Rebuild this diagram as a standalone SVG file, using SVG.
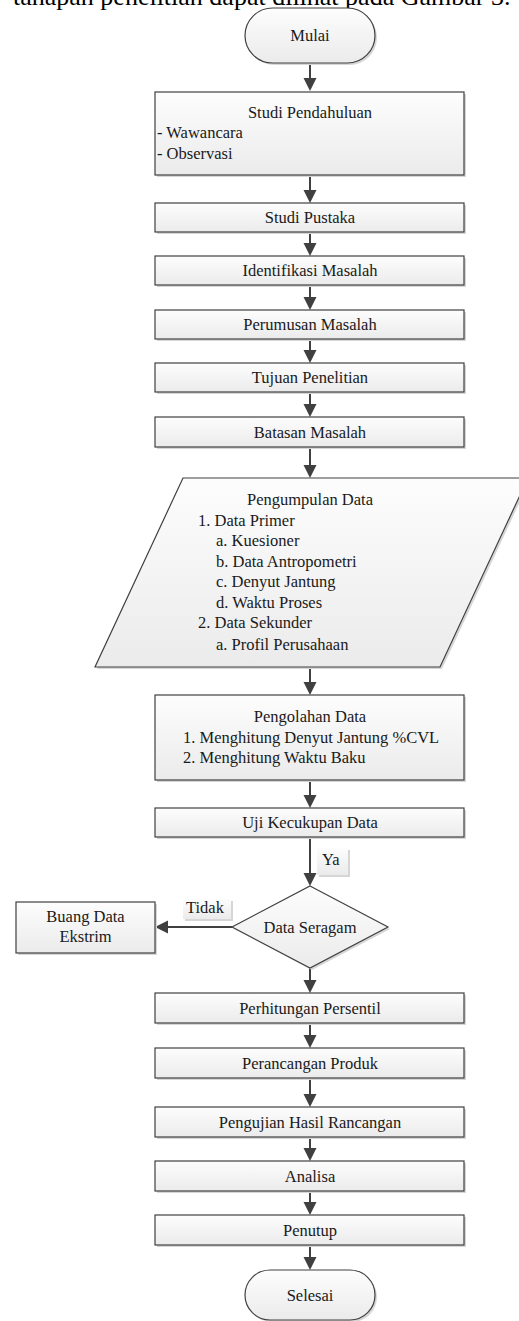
<svg xmlns="http://www.w3.org/2000/svg" width="519" height="1321" viewBox="0 0 519 1321">
<defs>
<linearGradient id="g" x1="0" y1="0" x2="0" y2="1">
<stop offset="0" stop-color="#fdfdfd"/>
<stop offset="1" stop-color="#ebebeb"/>
</linearGradient>
<marker id="ah" markerWidth="14" markerHeight="14" refX="7" refY="6.5" orient="auto" markerUnits="userSpaceOnUse">
<path d="M0,0 L13,6.5 L0,13 z" fill="#404040"/>
</marker>
</defs>
<style>
.s{fill:url(#g);stroke:#404040;stroke-width:1.2}
.sh{fill:#d6d6d6}
.t{font-family:"Liberation Serif","Times New Roman",serif;font-size:16.5px;fill:#1a1a1a}
.c{text-anchor:middle}
.e{stroke:#404040;stroke-width:2;fill:none;marker-end:url(#ah)}
.lb{fill:url(#g)}
</style>
<text x="13" y="5" style="font-family:'Liberation Serif',serif;font-size:26px;fill:#000">tahapan penelitian dapat dilihat pada Gambar 3.</text>

<g id="connectors">
<line class="e" x1="310" y1="63" x2="310" y2="85"/>
<line class="e" x1="310" y1="175" x2="310" y2="197"/>
<line class="e" x1="310" y1="232" x2="310" y2="250"/>
<line class="e" x1="310" y1="285" x2="310" y2="304"/>
<line class="e" x1="310" y1="339" x2="310" y2="357"/>
<line class="e" x1="310" y1="392" x2="310" y2="411"/>
<line class="e" x1="310" y1="447" x2="310" y2="472"/>
<line class="e" x1="310" y1="667" x2="310" y2="689"/>
<line class="e" x1="310" y1="780" x2="310" y2="802"/>
<line class="e" x1="310" y1="837" x2="310" y2="880"/>
<line class="e" x1="232" y1="927" x2="161" y2="927"/>
<line class="e" x1="310" y1="968" x2="310" y2="987"/>
<line class="e" x1="310" y1="1023" x2="310" y2="1042"/>
<line class="e" x1="310" y1="1078" x2="310" y2="1101"/>
<line class="e" x1="310" y1="1137" x2="310" y2="1155"/>
<line class="e" x1="310" y1="1191" x2="310" y2="1209"/>
<line class="e" x1="310" y1="1245" x2="310" y2="1264"/>
<g id="label-ya">
<rect class="sh" x="319" y="850" width="31" height="27"/>
<rect class="lb" x="317" y="848" width="31" height="27"/>
<text class="t" x="322" y="865">Ya</text>
</g>
<g id="label-tidak">
<rect class="sh" x="185" y="901" width="48" height="20"/>
<rect class="lb" x="183" y="899" width="48" height="20"/>
<text class="t" x="186" y="913">Tidak</text>
</g>
</g>

<g id="mulai">
<rect class="sh" x="247" y="10" width="130" height="55" rx="27.5"/>
<rect class="s" x="245" y="8" width="130" height="55" rx="27.5"/>
<text class="t c" x="310" y="41">Mulai</text>
</g>

<g id="studi-pendahuluan">
<rect class="sh" x="157" y="94" width="309" height="83"/>
<rect class="s" x="155" y="92" width="309" height="83"/>
<text class="t c" x="310" y="118">Studi Pendahuluan</text>
<text class="t" x="157" y="138">- Wawancara</text>
<text class="t" x="157" y="159">- Observasi</text>
</g>

<g id="studi-pustaka">
<rect class="sh" x="157" y="205" width="309" height="29"/>
<rect class="s" x="155" y="203" width="309" height="29"/>
<text class="t c" x="310" y="223">Studi Pustaka</text>
</g>

<g id="identifikasi">
<rect class="sh" x="157" y="258" width="309" height="29"/>
<rect class="s" x="155" y="256" width="309" height="29"/>
<text class="t c" x="310" y="276">Identifikasi Masalah</text>
</g>

<g id="perumusan">
<rect class="sh" x="157" y="312" width="309" height="29"/>
<rect class="s" x="155" y="310" width="309" height="29"/>
<text class="t c" x="310" y="330">Perumusan Masalah</text>
</g>

<g id="tujuan">
<rect class="sh" x="157" y="365" width="309" height="29"/>
<rect class="s" x="155" y="363" width="309" height="29"/>
<text class="t c" x="310" y="383">Tujuan Penelitian</text>
</g>

<g id="batasan">
<rect class="sh" x="157" y="419" width="309" height="30"/>
<rect class="s" x="155" y="417" width="309" height="30"/>
<text class="t c" x="310" y="438">Batasan Masalah</text>
</g>

<g id="pengumpulan">
<polygon class="sh" points="185,480 530,480 442,669 97,669"/>
<polygon class="s" points="183,478 528,478 440,667 95,667"/>
<text class="t c" x="310" y="505">Pengumpulan Data</text>
<text class="t" x="198" y="526">1. Data Primer</text>
<text class="t" x="216" y="546">a. Kuesioner</text>
<text class="t" x="216" y="567">b. Data Antropometri</text>
<text class="t" x="216" y="587">c. Denyut Jantung</text>
<text class="t" x="216" y="608">d. Waktu Proses</text>
<text class="t" x="198" y="628">2. Data Sekunder</text>
<text class="t" x="216" y="650">a. Profil Perusahaan</text>
</g>

<g id="pengolahan">
<rect class="sh" x="157" y="697" width="309" height="85"/>
<rect class="s" x="155" y="695" width="309" height="85"/>
<text class="t c" x="310" y="722">Pengolahan Data</text>
<text class="t" x="183" y="743">1. Menghitung Denyut Jantung %CVL</text>
<text class="t" x="183" y="763">2. Menghitung Waktu Baku</text>
</g>

<g id="uji">
<rect class="sh" x="157" y="810" width="309" height="29"/>
<rect class="s" x="155" y="808" width="309" height="29"/>
<text class="t c" x="310" y="828">Uji Kecukupan Data</text>
</g>

<g id="data-seragam">
<polygon class="sh" points="312,888 390,929 312,970 234,929"/>
<polygon class="s" points="310,886 388,927 310,968 232,927"/>
<text class="t c" x="310" y="933">Data Seragam</text>
</g>

<g id="buang">
<rect class="sh" x="18" y="904" width="139" height="51"/>
<rect class="s" x="16" y="902" width="139" height="51"/>
<text class="t c" x="85.5" y="922">Buang Data</text>
<text class="t c" x="85.5" y="942">Ekstrim</text>
</g>

<g id="perhitungan">
<rect class="sh" x="157" y="995" width="309" height="30"/>
<rect class="s" x="155" y="993" width="309" height="30"/>
<text class="t c" x="310" y="1014">Perhitungan Persentil</text>
</g>

<g id="perancangan">
<rect class="sh" x="157" y="1050" width="309" height="30"/>
<rect class="s" x="155" y="1048" width="309" height="30"/>
<text class="t c" x="310" y="1069">Perancangan Produk</text>
</g>

<g id="pengujian">
<rect class="sh" x="157" y="1109" width="309" height="30"/>
<rect class="s" x="155" y="1107" width="309" height="30"/>
<text class="t c" x="310" y="1128">Pengujian Hasil Rancangan</text>
</g>

<g id="analisa">
<rect class="sh" x="157" y="1163" width="309" height="30"/>
<rect class="s" x="155" y="1161" width="309" height="30"/>
<text class="t c" x="310" y="1182">Analisa</text>
</g>

<g id="penutup">
<rect class="sh" x="157" y="1217" width="309" height="30"/>
<rect class="s" x="155" y="1215" width="309" height="30"/>
<text class="t c" x="310" y="1236">Penutup</text>
</g>

<g id="selesai">
<rect class="sh" x="247" y="1272" width="130" height="50" rx="25"/>
<rect class="s" x="245" y="1270" width="130" height="50" rx="25"/>
<text class="t c" x="310" y="1301">Selesai</text>
</g>
</svg>
